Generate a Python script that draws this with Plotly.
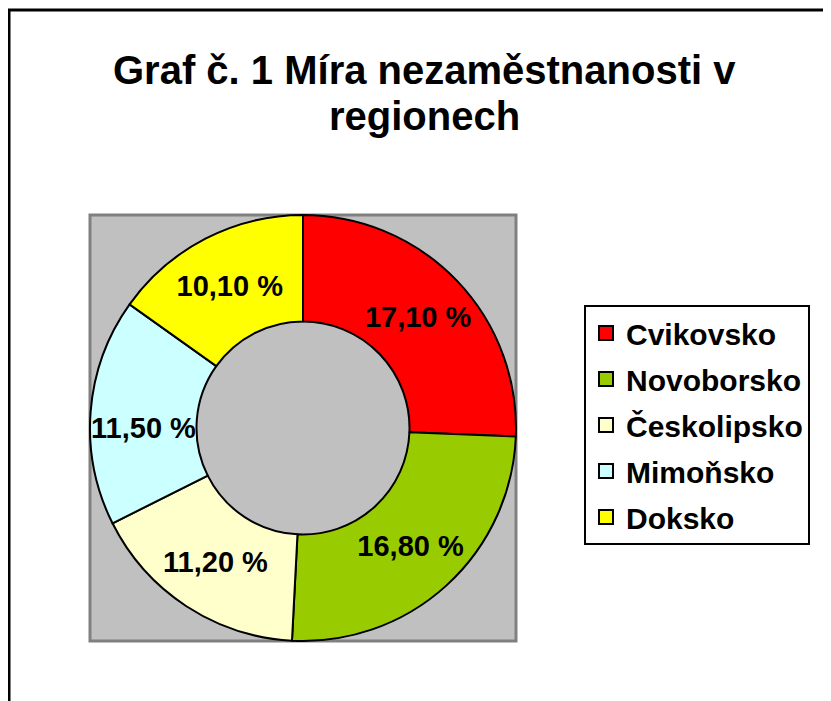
import plotly.graph_objects as go

regions = ["Cvikovsko", "Novoborsko", "Českolipsko", "Mimoňsko", "Doksko"]
rates = [17.10, 16.80, 11.20, 11.50, 10.10]
colors = ["#ff0000", "#99cc00", "#ffffcc", "#ccffff", "#ffff00"]
title_lines = ["Graf č. 1 Míra nezaměstnanosti v", "regionech"]

# page has an 8px body margin; figure coordinates are page coordinates minus 8
OFF = 8
W, H = 831 - OFF, 701 - OFF
def px(x):
    return (x - OFF) / W
def py(y):
    return 1 - (y - OFF) / H

FONT = "Liberation Sans, Arial, sans-serif"

fig = go.Figure()
fig.add_trace(go.Pie(
    labels=regions,
    values=rates,
    sort=False,
    direction="clockwise",
    rotation=0,
    hole=0.5,
    marker=dict(colors=colors, line=dict(color="#000000", width=2)),
    texttemplate="%{value:.2f} %",
    textposition="inside",
    insidetextorientation="horizontal",
    textfont=dict(family=FONT, size=29, color="#000000", weight="bold"),
    domain=dict(x=[px(90), px(516)], y=[py(641), py(215)]),
    hoverinfo="label+value",
    showlegend=False,
))

# legend entries (one group per region so spacing can be controlled)
for name, col in zip(regions, colors):
    fig.add_trace(go.Scatter(
        x=[None], y=[None], mode="markers", name=name,
        legendgroup=name,
        marker=dict(symbol="square", size=14, color=col,
                    line=dict(color="#000000", width=2)),
        showlegend=True, hoverinfo="skip",
    ))

fig.update_layout(
    width=W, height=H,
    margin=dict(l=0, r=0, t=0, b=0),
    paper_bgcolor="#ffffff",
    plot_bgcolor="rgba(0,0,0,0)",
    separators=", ",
    font=dict(family=FONT, color="#000000"),
    uniformtext=dict(minsize=29, mode="show"),
    xaxis=dict(visible=False, domain=[0, 0.01]),
    yaxis=dict(visible=False, domain=[0, 0.01]),
    legend=dict(
        x=px(584), xanchor="left",
        y=py(305), yanchor="top",
        bgcolor="#ffffff",
        bordercolor="#000000",
        borderwidth=2,
        tracegroupgap=4,
        font=dict(family=FONT, size=30, color="#000000", weight="bold"),
    ),
    annotations=[
        dict(text="<b>%s</b>" % title_lines[0], xref="paper", yref="paper",
             x=px(424), y=py(70), xanchor="center", yanchor="middle",
             showarrow=False, font=dict(family=FONT, size=40, color="#000000")),
        dict(text="<b>%s</b>" % title_lines[1], xref="paper", yref="paper",
             x=px(424), y=py(116), xanchor="center", yanchor="middle",
             showarrow=False, font=dict(family=FONT, size=40, color="#000000")),
    ],
    shapes=[
        dict(type="rect", xref="paper", yref="paper",
             x0=px(90), x1=px(516), y0=py(641), y1=py(215),
             fillcolor="#c0c0c0", line=dict(color="#808080", width=3), layer="below"),
        dict(type="rect", xref="paper", yref="paper",
             x0=px(9), x1=px(845), y0=py(715), y1=py(10),
             fillcolor="rgba(0,0,0,0)", line=dict(color="#000000", width=3), layer="below"),
    ],
)

fig.write_html("out.html")
